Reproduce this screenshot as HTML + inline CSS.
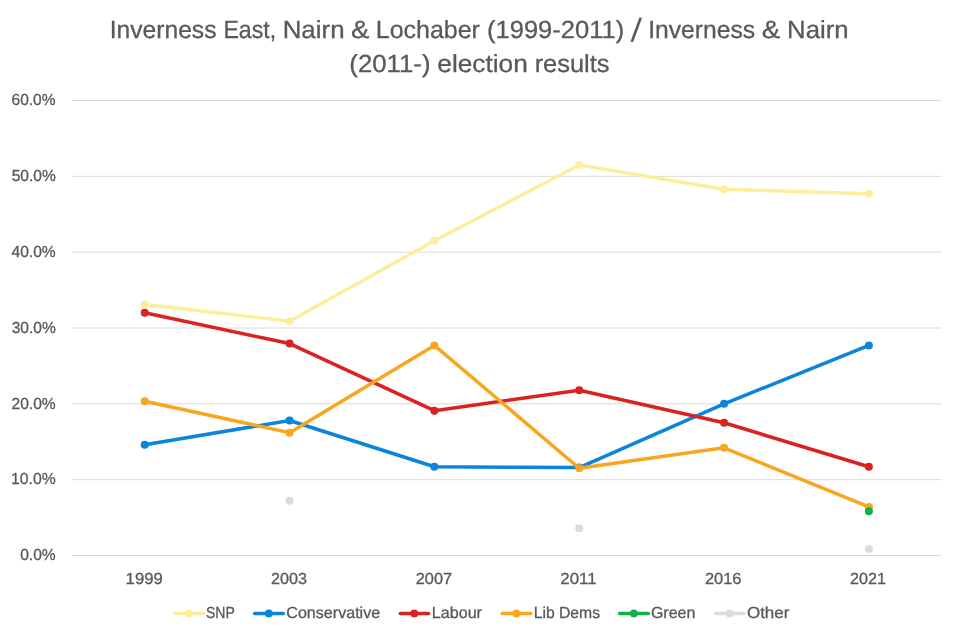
<!DOCTYPE html>
<html lang="en">
<head>
<meta charset="utf-8">
<title>Inverness East, Nairn &amp; Lochaber / Inverness &amp; Nairn election results</title>
<style>
html,body{margin:0;padding:0;background:#fff;}
body{width:960px;height:640px;overflow:hidden;}
svg{display:block;will-change:transform;}
text{font-family:"Liberation Sans",sans-serif;fill:#595959;stroke:#595959;stroke-width:0.3px;text-rendering:geometricPrecision;}
</style>
</head>
<body>
<svg width="960" height="640" viewBox="0 0 960 640">
<rect width="960" height="640" fill="#ffffff"/>
<g stroke="#D9D9D9" stroke-width="1" fill="none">
<line x1="72.0" y1="555.50" x2="941.0" y2="555.50"/>
<line x1="72.0" y1="479.67" x2="941.0" y2="479.67"/>
<line x1="72.0" y1="403.83" x2="941.0" y2="403.83"/>
<line x1="72.0" y1="328.00" x2="941.0" y2="328.00"/>
<line x1="72.0" y1="252.17" x2="941.0" y2="252.17"/>
<line x1="72.0" y1="176.33" x2="941.0" y2="176.33"/>
<line x1="72.0" y1="100.50" x2="941.0" y2="100.50"/>
</g>
<g stroke="#FDEE9E" fill="#FDEE9E" stroke-width="3.5" stroke-linecap="round" stroke-linejoin="round">
<polyline fill="none" points="144.72,304.49 289.55,321.18 434.38,240.79 579.22,164.96 724.05,189.23 868.88,193.77"/>
<circle stroke="none" cx="144.72" cy="304.49" r="4.0"/>
<circle stroke="none" cx="289.55" cy="321.18" r="4.0"/>
<circle stroke="none" cx="434.38" cy="240.79" r="4.0"/>
<circle stroke="none" cx="579.22" cy="164.96" r="4.0"/>
<circle stroke="none" cx="724.05" cy="189.23" r="4.0"/>
<circle stroke="none" cx="868.88" cy="193.77" r="4.0"/>
</g>
<g stroke="#0A85DA" fill="#0A85DA" stroke-width="3.5" stroke-linecap="round" stroke-linejoin="round">
<polyline fill="none" points="144.72,444.78 289.55,420.52 434.38,466.77 579.22,467.53 724.05,403.83 868.88,345.44"/>
<circle stroke="none" cx="144.72" cy="444.78" r="4.0"/>
<circle stroke="none" cx="289.55" cy="420.52" r="4.0"/>
<circle stroke="none" cx="434.38" cy="466.77" r="4.0"/>
<circle stroke="none" cx="579.22" cy="467.53" r="4.0"/>
<circle stroke="none" cx="724.05" cy="403.83" r="4.0"/>
<circle stroke="none" cx="868.88" cy="345.44" r="4.0"/>
</g>
<g stroke="#DB2222" fill="#DB2222" stroke-width="3.5" stroke-linecap="round" stroke-linejoin="round">
<polyline fill="none" points="144.72,312.83 289.55,343.55 434.38,410.66 579.22,390.18 724.05,422.79 868.88,466.77"/>
<circle stroke="none" cx="144.72" cy="312.83" r="4.0"/>
<circle stroke="none" cx="289.55" cy="343.55" r="4.0"/>
<circle stroke="none" cx="434.38" cy="410.66" r="4.0"/>
<circle stroke="none" cx="579.22" cy="390.18" r="4.0"/>
<circle stroke="none" cx="724.05" cy="422.79" r="4.0"/>
<circle stroke="none" cx="868.88" cy="466.77" r="4.0"/>
</g>
<g stroke="#F8A61F" fill="#F8A61F" stroke-width="3.5" stroke-linecap="round" stroke-linejoin="round">
<polyline fill="none" points="144.72,401.18 289.55,432.65 434.38,345.44 579.22,468.29 724.05,447.82 868.88,506.97"/>
<circle stroke="none" cx="144.72" cy="401.18" r="4.0"/>
<circle stroke="none" cx="289.55" cy="432.65" r="4.0"/>
<circle stroke="none" cx="434.38" cy="345.44" r="4.0"/>
<circle stroke="none" cx="579.22" cy="468.29" r="4.0"/>
<circle stroke="none" cx="724.05" cy="447.82" r="4.0"/>
<circle stroke="none" cx="868.88" cy="506.97" r="4.0"/>
</g>
<g stroke="#10B04B" fill="#10B04B" stroke-width="3.5" stroke-linecap="round" stroke-linejoin="round">
<circle stroke="none" cx="868.88" cy="511.29" r="4.0"/>
</g>
<g stroke="#DCDCDC" fill="#DCDCDC" stroke-width="3.5" stroke-linecap="round" stroke-linejoin="round">
<circle stroke="none" cx="289.55" cy="500.67" r="4.0"/>
<circle stroke="none" cx="579.22" cy="528.20" r="4.0"/>
<circle stroke="none" cx="868.88" cy="549.05" r="4.0"/>
</g>
<g stroke="#FDEE9E" fill="#FDEE9E" stroke-width="3.5" stroke-linecap="round"><line x1="174.60" y1="613.40" x2="203.30" y2="613.40"/><circle stroke="none" cx="188.83" cy="613.40" r="3.9"/></g>
<g stroke="#0A85DA" fill="#0A85DA" stroke-width="3.5" stroke-linecap="round"><line x1="254.60" y1="613.40" x2="283.30" y2="613.40"/><circle stroke="none" cx="268.82" cy="613.40" r="3.9"/></g>
<g stroke="#DB2222" fill="#DB2222" stroke-width="3.5" stroke-linecap="round"><line x1="400.25" y1="613.40" x2="428.55" y2="613.40"/><circle stroke="none" cx="414.27" cy="613.40" r="3.9"/></g>
<g stroke="#F8A61F" fill="#F8A61F" stroke-width="3.5" stroke-linecap="round"><line x1="502.10" y1="613.40" x2="530.80" y2="613.40"/><circle stroke="none" cx="516.32" cy="613.40" r="3.9"/></g>
<g stroke="#10B04B" fill="#10B04B" stroke-width="3.5" stroke-linecap="round"><line x1="619.60" y1="613.40" x2="648.30" y2="613.40"/><circle stroke="none" cx="633.82" cy="613.40" r="3.9"/></g>
<g stroke="#DCDCDC" fill="#DCDCDC" stroke-width="3.5" stroke-linecap="round"><line x1="715.50" y1="613.40" x2="743.80" y2="613.40"/><circle stroke="none" cx="729.52" cy="613.40" r="3.9"/></g>
<text font-size="24.8"><tspan x="109.79" y="38.2" textLength="106.67" lengthAdjust="spacingAndGlyphs">Inverness</tspan> <tspan x="223.42" y="38.2" textLength="52.70" lengthAdjust="spacingAndGlyphs">East,</tspan> <tspan x="282.66" y="38.2" textLength="61.89" lengthAdjust="spacingAndGlyphs">Nairn</tspan> <tspan x="351.02" y="38.2" textLength="18.34" lengthAdjust="spacingAndGlyphs">&amp;</tspan> <tspan x="375.83" y="38.2" textLength="104.02" lengthAdjust="spacingAndGlyphs">Lochaber</tspan> <tspan x="487.00" y="38.2" textLength="137.22" lengthAdjust="spacingAndGlyphs">(1999-2011)</tspan> <tspan x="630.60" y="41.6" font-size="34" rotate="5" stroke-width="0">/</tspan> <tspan x="648.22" y="38.2" textLength="106.87" lengthAdjust="spacingAndGlyphs">Inverness</tspan> <tspan x="761.66" y="38.2" textLength="18.53" lengthAdjust="spacingAndGlyphs">&amp;</tspan> <tspan x="787.05" y="38.2" textLength="61.50" lengthAdjust="spacingAndGlyphs">Nairn</tspan></text>
<text font-size="24.8"><tspan x="349.37" y="72.0" textLength="81.16" lengthAdjust="spacingAndGlyphs">(2011-)</tspan> <tspan x="437.39" y="72.0" textLength="90.41" lengthAdjust="spacingAndGlyphs">election</tspan> <tspan x="534.65" y="72.0" textLength="74.80" lengthAdjust="spacingAndGlyphs">results</tspan></text>
<text font-size="16" x="20.19" y="560.2" textLength="35.55" lengthAdjust="spacingAndGlyphs">0.0%</text>
<text font-size="16" x="11.04" y="484.37" textLength="44.66" lengthAdjust="spacingAndGlyphs">10.0%</text>
<text font-size="16" x="11.46" y="408.53" textLength="44.22" lengthAdjust="spacingAndGlyphs">20.0%</text>
<text font-size="16" x="11.67" y="332.7" textLength="44.12" lengthAdjust="spacingAndGlyphs">30.0%</text>
<text font-size="16" x="11.49" y="256.87" textLength="44.23" lengthAdjust="spacingAndGlyphs">40.0%</text>
<text font-size="16" x="11.73" y="181.03" textLength="44.10" lengthAdjust="spacingAndGlyphs">50.0%</text>
<text font-size="16" x="11.53" y="105.2" textLength="43.91" lengthAdjust="spacingAndGlyphs">60.0%</text>
<text font-size="16" x="125.59" y="583.7" textLength="37.24" lengthAdjust="spacingAndGlyphs">1999</text>
<text font-size="16" x="271.09" y="583.7" textLength="35.90" lengthAdjust="spacingAndGlyphs">2003</text>
<text font-size="16" x="415.80" y="583.7" textLength="36.24" lengthAdjust="spacingAndGlyphs">2007</text>
<text font-size="16" x="560.39" y="583.7" textLength="36.23" lengthAdjust="spacingAndGlyphs">2011</text>
<text font-size="16" x="705.00" y="583.7" textLength="36.45" lengthAdjust="spacingAndGlyphs">2016</text>
<text font-size="16" x="850.06" y="583.7" textLength="35.83" lengthAdjust="spacingAndGlyphs">2021</text>
<text font-size="16" x="206.01" y="617.8" textLength="28.85" lengthAdjust="spacingAndGlyphs">SNP</text>
<text font-size="16" x="286.32" y="617.8" textLength="93.87" lengthAdjust="spacingAndGlyphs">Conservative</text>
<text font-size="16" x="431.85" y="617.8" textLength="50.13" lengthAdjust="spacingAndGlyphs">Labour</text>
<text font-size="16" x="533.67" y="617.8" textLength="66.37" lengthAdjust="spacingAndGlyphs">Lib Dems</text>
<text font-size="16" x="650.88" y="617.8" textLength="44.44" lengthAdjust="spacingAndGlyphs">Green</text>
<text font-size="16" x="746.95" y="617.8" textLength="42.44" lengthAdjust="spacingAndGlyphs">Other</text>
</svg>
</body>
</html>
